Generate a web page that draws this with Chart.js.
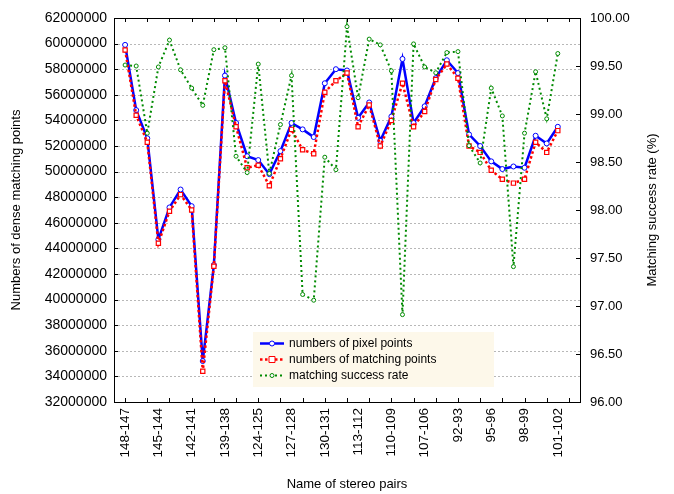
<!DOCTYPE html>
<html>
<head>
<meta charset="utf-8">
<script src="https://cdn.jsdelivr.net/npm/chart.js@4.4.1/dist/chart.umd.min.js"></script>
<style>
html, body { margin: 0; padding: 0; background: #fff; }
#wrap { width: 674px; height: 494px; }
</style>
</head>
<body>
<div id="wrap"><canvas id="chart" width="674" height="494"></canvas></div>
<script>
// stereo pair names (only every third one is printed on the axis)
const pairNames = [
  "148-147", "147-146", "146-145", "145-144", "144-143", "143-142", "142-141", "141-140",
  "140-139", "139-138", "122-123", "123-124", "124-125", "125-126", "126-127", "127-128",
  "128-129", "129-130", "130-131", "115-114", "114-113", "113-112", "112-111", "111-110",
  "110-109", "109-108", "108-107", "107-106", "90-91", "91-92", "92-93", "93-94",
  "94-95", "95-96", "96-97", "97-98", "98-99", "99-100", "100-101", "101-102"
];

const pixelPoints = [
  59900000, 54800000, 52600000, 44700000, 47200000, 48600000, 47300000, 35200000,
  42700000, 57500000, 53800000, 51200000, 50900000, 49800000, 51600000, 53800000,
  53300000, 52700000, 56900000, 58000000, 57900000, 54200000, 55400000, 52400000,
  54300000, 58800000, 53800000, 55100000, 57300000, 58700000, 57700000, 52900000,
  52000000, 50800000, 50200000, 50400000, 50300000, 52800000, 52200000, 53500000
];

const matchingPoints = [
  59500000, 54400000, 52300000, 44400000, 46900000, 48200000, 47000000, 34400000,
  42600000, 57100000, 53500000, 50300000, 50500000, 48900000, 51000000, 53300000,
  51700000, 51400000, 56200000, 57100000, 57700000, 53500000, 55200000, 52000000,
  54000000, 56900000, 53500000, 54700000, 57200000, 58400000, 57300000, 52000000,
  51500000, 50100000, 49400000, 49100000, 49400000, 52300000, 51500000, 53200000
];

const successRate = [
  99.51, 99.50, 98.80, 99.49, 99.77, 99.46, 99.27, 99.09,
  99.67, 99.69, 98.56, 98.39, 99.52, 98.38, 98.89, 99.40,
  97.12, 97.06, 98.55, 98.42, 99.91, 99.17, 99.78, 99.72,
  99.45, 96.91, 99.73, 99.49, 99.43, 99.64, 99.65, 98.67,
  98.49, 99.27, 98.98, 97.41, 98.80, 99.44, 98.95, 99.63
];

const leftMin = 32000000, leftMax = 62000000, leftStep = 2000000;
const rightMin = 96, rightMax = 100, rightStep = 0.5;

const FONT = "'Liberation Sans', Arial, sans-serif";

const toXY = arr => arr.map((v, i) => ({ x: i, y: v }));

// gridlines, frame, inward ticks, right title and legend box
const decor = {
  id: "decor",
  beforeDatasetsDraw(chart) {
    const { ctx, chartArea: a, scales } = chart;
    ctx.save();
    ctx.strokeStyle = "#b8b8b8";
    ctx.lineWidth = 1;
    ctx.setLineDash([2, 2]);
    scales.y.ticks.forEach(t => {
      const y = Math.round(scales.y.getPixelForValue(t.value)) + 0.5;
      ctx.beginPath();
      ctx.moveTo(a.left, y);
      ctx.lineTo(a.right, y);
      ctx.stroke();
    });
    ctx.restore();
  },
  afterDatasetsDraw(chart) {
    const { ctx, chartArea: a, scales } = chart;
    ctx.save();
    ctx.strokeStyle = "#000";
    ctx.lineWidth = 1;
    ctx.setLineDash([]);
    ctx.strokeRect(a.left + 0.5, a.top + 0.5, a.right - a.left, a.bottom - a.top);

    ctx.beginPath();
    scales.y.ticks.forEach(t => {
      const y = Math.round(scales.y.getPixelForValue(t.value)) + 0.5;
      ctx.moveTo(a.left, y);
      ctx.lineTo(a.left + 4, y);
    });
    scales.y1.ticks.forEach(t => {
      const y = Math.round(scales.y1.getPixelForValue(t.value)) + 0.5;
      ctx.moveTo(a.right - 4, y);
      ctx.lineTo(a.right, y);
    });
    for (let k = 0; k <= pairNames.length; k += 2) {
      const x = Math.round(scales.x.getPixelForValue(k)) + 0.5;
      ctx.moveTo(x, a.bottom);
      ctx.lineTo(x, a.bottom - 4);
      ctx.moveTo(x, a.top);
      ctx.lineTo(x, a.top + 4);
    }
    ctx.stroke();

    // right axis title, reading bottom to top
    ctx.fillStyle = "#000";
    ctx.font = "13px " + FONT;
    ctx.textAlign = "center";
    ctx.textBaseline = "middle";
    ctx.translate(652, (a.top + a.bottom) / 2);
    ctx.rotate(-Math.PI / 2);
    ctx.fillText("Matching success rate (%)", 0, 0);
    ctx.restore();

    // legend
    ctx.save();
    ctx.fillStyle = "#fdf8ea";
    ctx.fillRect(253, 332, 241, 55);
    chart.data.datasets.forEach((ds, i) => {
      const y = 343.5 + i * 16;
      ctx.strokeStyle = ds.borderColor;
      ctx.lineWidth = ds.borderWidth;
      ctx.setLineDash(ds.borderDash || []);
      ctx.beginPath();
      ctx.moveTo(260, y);
      ctx.lineTo(284, y);
      ctx.stroke();
      ctx.setLineDash([]);
      ctx.lineWidth = 1;
      ctx.fillStyle = "#fff";
      const r = ds.pointRadius;
      ctx.beginPath();
      if (ds.pointStyle === "rect") ctx.rect(272 - r, y - r, 2 * r, 2 * r);
      else ctx.arc(272, y, r, 0, Math.PI * 2);
      ctx.fill();
      ctx.stroke();
      ctx.fillStyle = "#000";
      ctx.font = "12px " + FONT;
      ctx.textAlign = "left";
      ctx.textBaseline = "middle";
      ctx.fillText(ds.label, 289, y + 0.5);
    });
    ctx.restore();
  }
};

new Chart(document.getElementById("chart"), {
  type: "line",
  data: {
    datasets: [
      {
        label: "numbers of pixel points",
        data: toXY(pixelPoints),
        yAxisID: "y",
        borderColor: "#0000ff",
        borderWidth: 2.5,
        pointStyle: "circle",
        pointRadius: 2.5,
        pointBorderWidth: 1,
        pointBackgroundColor: "#fff",
        order: 3
      },
      {
        label: "numbers of matching points",
        data: toXY(matchingPoints),
        yAxisID: "y",
        borderColor: "#ff0000",
        borderWidth: 2.5,
        borderDash: [2.5, 2.5],
        pointStyle: "rect",
        pointRadius: 3,
        pointBorderWidth: 1.2,
        pointBackgroundColor: "#fff",
        order: 2
      },
      {
        label: "matching success rate",
        data: toXY(successRate),
        yAxisID: "y1",
        borderColor: "#008a00",
        borderWidth: 2,
        borderDash: [2, 3],
        pointStyle: "circle",
        pointRadius: 2,
        pointBorderWidth: 1,
        pointBackgroundColor: "#fff",
        order: 1
      }
    ]
  },
  options: {
    responsive: false,
    animation: false,
    devicePixelRatio: 1,
    layout: { padding: { top: 18, left: 0, right: 0, bottom: 0 } },
    plugins: { legend: { display: false }, tooltip: { enabled: false } },
    elements: { line: { tension: 0, fill: false } },
    scales: {
      x: {
        type: "linear",
        min: -1,
        max: pairNames.length + 1,
        grid: { display: false, drawTicks: false },
        border: { display: false },
        afterBuildTicks: scale => {
          scale.ticks = pairNames.map((n, i) => ({ value: i })).filter(t => t.value % 3 === 0);
        },
        afterFit: scale => { scale.height = 92; },
        ticks: {
          autoSkip: false,
          minRotation: 90,
          maxRotation: 90,
          padding: 6,
          color: "#000",
          font: { family: FONT, size: 13.5 },
          callback: v => pairNames[v] || ""
        },
        title: {
          display: true,
          text: "Name of stereo pairs",
          color: "#000",
          font: { family: FONT, size: 13 },
          padding: { top: 0, bottom: 2 }
        }
      },
      y: {
        position: "left",
        min: leftMin,
        max: leftMax,
        grid: { display: false, drawTicks: false },
        border: { display: false },
        afterFit: scale => { scale.width = 114; },
        ticks: {
          stepSize: leftStep,
          padding: 7,
          color: "#000",
          font: { family: FONT, size: 14 },
          callback: v => String(v)
        },
        title: {
          display: true,
          text: "Numbers of dense matching points",
          color: "#000",
          font: { family: FONT, size: 13 },
          padding: { top: 9, bottom: 0 }
        }
      },
      y1: {
        position: "right",
        min: rightMin,
        max: rightMax,
        grid: { display: false, drawTicks: false },
        border: { display: false },
        afterFit: scale => { scale.width = 94; },
        ticks: {
          stepSize: rightStep,
          padding: 10,
          color: "#000",
          font: { family: FONT, size: 13 },
          callback: v => v.toFixed(2)
        }
      }
    }
  },
  plugins: [decor]
});
</script>
</body>
</html>
